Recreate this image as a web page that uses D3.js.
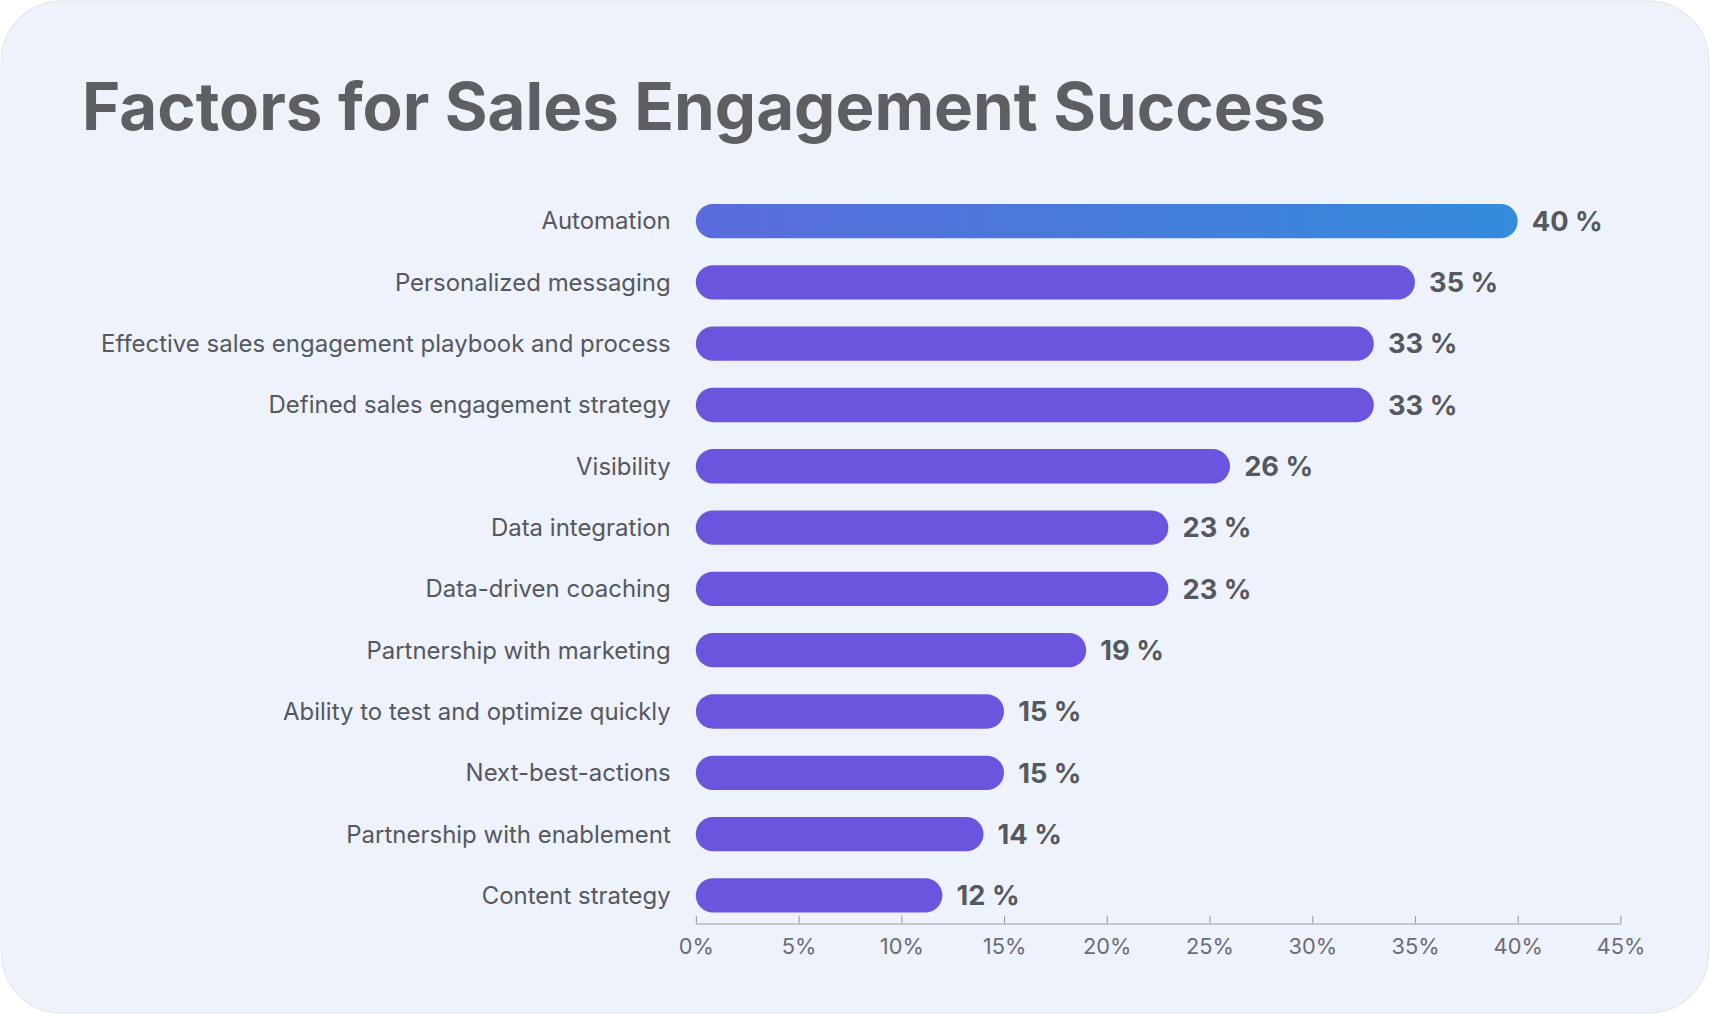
<html lang="en">
<head>
  <meta charset="UTF-8">
  <title>Factors for Sales Engagement Success</title>
  <script src="https://d3js.org/d3.v7.min.js"></script>
  <style>
    body { margin: 0; background: #ffffff; }
    svg { display: block; font-family: "Inter", "Open Sans", sans-serif; }
  </style>
</head>
<body>
  <svg id="chart"></svg>
  <script>
    const width = 1568;
    const height = 930;
    const margin = { top: 187, right: 82, bottom: 83, left: 638 };

    const data = [
      { label: "Automation", value: 40 },
      { label: "Personalized messaging", value: 35 },
      { label: "Effective sales engagement playbook and process", value: 33 },
      { label: "Defined sales engagement strategy", value: 33 },
      { label: "Visibility", value: 26 },
      { label: "Data integration", value: 23 },
      { label: "Data-driven coaching", value: 23 },
      { label: "Partnership with marketing", value: 19 },
      { label: "Ability to test and optimize quickly", value: 15 },
      { label: "Next-best-actions", value: 15 },
      { label: "Partnership with enablement", value: 14 },
      { label: "Content strategy", value: 12 }
    ];

    const svg = d3.select("#chart")
      .attr("width", 1710)
      .attr("height", 1014)
      .attr("viewBox", `0 0 ${width} ${height}`);

    const defs = svg.append("defs");
    const grad = defs.append("linearGradient").attr("id", "topGrad");
    grad.append("stop").attr("offset", "0%").attr("stop-color", "#5a6bdc");
    grad.append("stop").attr("offset", "100%").attr("stop-color", "#348cdb");

    // card
    svg.append("rect")
      .attr("x", 1).attr("y", 1)
      .attr("width", width - 2).attr("height", height - 2)
      .attr("rx", 55)
      .attr("fill", "#eef2fb")
      .attr("stroke", "#e2e6ef");

    svg.append("text")
      .attr("x", 75).attr("y", 119)
      .attr("font-size", 60)
      .attr("font-weight", 700)
      .attr("fill", "#5d5f63")
      .text("Factors for Sales Engagement Success");

    const x = d3.scaleLinear().domain([0, 45]).range([margin.left, width - margin.right]);
    const y = d3.scaleBand()
      .domain(data.map(d => d.label))
      .range([margin.top, height - margin.bottom - 10])
      .paddingInner(0.44)
      .paddingOuter(0.0);

    const bh = y.bandwidth();

    svg.selectAll("rect.bar")
      .data(data)
      .enter()
      .append("rect")
      .attr("class", "bar")
      .attr("x", x(0))
      .attr("y", d => y(d.label))
      .attr("width", d => x(d.value) - x(0))
      .attr("height", bh)
      .attr("rx", bh / 2)
      .attr("fill", (d, i) => i === 0 ? "url(#topGrad)" : "#6c55de");

    svg.selectAll("text.label")
      .data(data)
      .enter()
      .append("text")
      .attr("class", "label")
      .attr("x", margin.left - 23)
      .attr("y", d => y(d.label) + bh / 2)
      .attr("dy", "0.35em")
      .attr("text-anchor", "end")
      .attr("font-size", 22)
      .attr("fill", "#55585d")
      .text(d => d.label);

    svg.selectAll("text.value")
      .data(data)
      .enter()
      .append("text")
      .attr("class", "value")
      .attr("x", d => x(d.value) + 13)
      .attr("y", d => y(d.label) + bh / 2)
      .attr("dy", "0.36em")
      .attr("font-size", 25)
      .attr("font-weight", 700)
      .attr("fill", "#55585d")
      .text(d => d.value + " %");

    const axis = svg.append("g")
      .attr("transform", `translate(0, ${height - margin.bottom})`)
      .call(d3.axisBottom(x).tickValues(d3.range(0, 46, 5)).tickFormat(d => d + "%").tickSize(7).tickSizeOuter(0));
    axis.select(".domain").attr("stroke", "#9a9ca0");
    axis.selectAll(".tick line").attr("stroke", "#9a9ca0").attr("transform", "translate(0,-7)");
    axis.selectAll(".tick text")
      .attr("font-size", 20)
      .attr("fill", "#6a6d72")
      .attr("font-family", "Inter, sans-serif")
      .attr("dy", "0.9em");
  </script>
</body>
</html>
